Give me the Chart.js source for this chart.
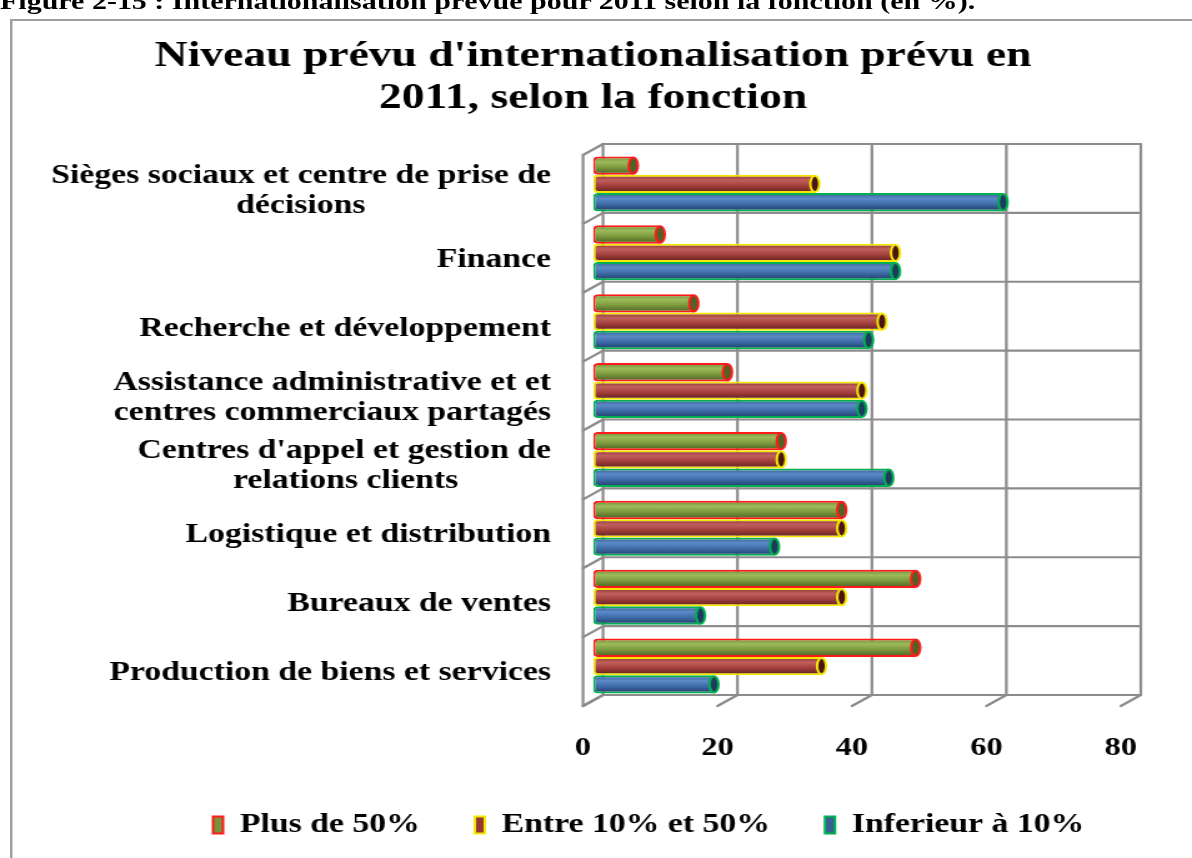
<!DOCTYPE html>
<html><head><meta charset="utf-8">
<script src="https://cdn.jsdelivr.net/npm/chart.js@4/dist/chart.umd.min.js"></script>
<style>
html,body{margin:0;padding:0;background:#fff;overflow:hidden;width:1192px;height:858px;}
#wrap{position:absolute;left:0;top:0;width:954px;height:858px;transform:scaleX(1.2495);transform-origin:0 0;}
#c{position:absolute;left:0;top:0;}
#cap{position:absolute;left:0;top:-11px;font:bold 24px "Liberation Serif",serif;line-height:24px;white-space:nowrap;color:#000;}
#ftop{position:absolute;left:8px;top:19px;width:946px;height:2px;background:#a0a0a0;}
#fleft{position:absolute;left:8px;top:19px;width:2.4px;height:839px;background:#a0a0a0;}
</style></head>
<body><div id="wrap"><canvas id="c" width="954" height="858"></canvas>
<div id="cap">Figure 2-15 : Internationalisation prévue pour 2011 selon la fonction (en %).</div>
<div id="ftop"></div><div id="fleft"></div></div>
<script>
const titleLines = ["Niveau prévu d'internationalisation prévu en", "2011, selon la fonction"];
const categories = [
  ["Sièges sociaux et centre de prise de", "décisions"],
  "Finance",
  "Recherche et développement",
  ["Assistance administrative et et", "centres commerciaux partagés"],
  ["Centres d'appel et gestion de", "relations clients"],
  "Logistique et distribution",
  "Bureaux de ventes",
  "Production de biens et services"
];
const seriesNames = ["Plus de 50%", "Entre 10% et 50%", "Inferieur à 10%"];
const plusDe50 = [6, 10, 15, 20, 28, 37, 48, 48];
const entre10et50 = [33, 45, 43, 40, 28, 37, 37, 34];
const inferieur10 = [61, 45, 41, 40, 44, 27, 16, 18];
const xTicks = [0, 20, 40, 60, 80];

const FONT = "'Liberation Serif', 'Times New Roman', serif";
const gradStops = [
  ['#6f8a35', '#9cbb5a', '#7e9a3e', '#4a5d22'],
  ['#8c3431', '#c0605d', '#a33f3c', '#5a1e1c'],
  ['#365f93', '#5b8ac6', '#3f6ca8', '#1d3a63']
];
const flatColors = ['#77933c', '#953735', '#376092'];
const borderColors = ['#ff1a1a', '#f5e800', '#00b050'];
const capColors = ['#4f6228', '#4a1515', '#1f3a5f'];

function cyl(i) {
  return (c) => {
    const el = c.element;
    if (!el || !isFinite(el.y) || !el.height) return flatColors[i];
    const g = c.chart.ctx.createLinearGradient(0, el.y - el.height / 2, 0, el.y + el.height / 2);
    const s = gradStops[i];
    g.addColorStop(0, s[0]); g.addColorStop(0.3, s[1]); g.addColorStop(0.6, s[2]); g.addColorStop(1, s[3]);
    return g;
  };
}

// centre shorter lines of multi-line labels inside their right-aligned block
const mctx = document.createElement('canvas').getContext('2d');
mctx.font = "bold 27px " + FONT;
const spaceW = mctx.measureText(' ').width;
const yLabels = categories.map(l => {
  if (!Array.isArray(l)) return l;
  const ws = l.map(t => mctx.measureText(t).width);
  const mw = Math.max(...ws);
  return l.map((t, i) => t + ' '.repeat(Math.round((mw - ws[i]) / 2 / spaceW)));
});

const DX = 8, DY = 5.5;
const framePlugin = {
  id: 'frame3d',
  beforeDatasetsDraw(chart) {
    const ctx = chart.ctx, xs = chart.scales.x;
    const {top, bottom} = chart.chartArea;
    const n = categories.length, band = (bottom - top) / n;
    const x0 = xs.getPixelForValue(xTicks[0]), xN = xs.getPixelForValue(xTicks[xTicks.length - 1]);
    ctx.save();
    ctx.strokeStyle = '#8c8c8c'; ctx.lineWidth = 2.2; ctx.lineCap = 'round';
    const line = (a, b, c, d) => { ctx.beginPath(); ctx.moveTo(a, b); ctx.lineTo(c, d); ctx.stroke(); };
    xTicks.forEach(v => {
      const X = xs.getPixelForValue(v);
      line(X + DX, top - DY, X + DX, bottom - DY);
      line(X - DX, bottom + DY, X + DX, bottom - DY);
    });
    for (let i = 0; i <= n; i++) {
      const yb = top + i * band;
      line(x0 + DX, yb - DY, xN + DX, yb - DY);
      line(x0 - DX, yb + DY, x0 + DX, yb - DY);
    }
    line(x0 - DX, top + DY, x0 - DX, bottom + DY);
    ctx.restore();
  },
  afterDatasetsDraw(chart) {
    const ctx = chart.ctx;
    chart.data.datasets.forEach((ds, di) => {
      chart.getDatasetMeta(di).data.forEach(el => {
        if (!isFinite(el.x)) return;
        ctx.save();
        ctx.beginPath();
        ctx.ellipse(el.x, el.y, 3.6, Math.max(el.height / 2 - 1, 1), 0, 0, Math.PI * 2);
        ctx.fillStyle = capColors[di]; ctx.fill();
        ctx.lineWidth = 2; ctx.strokeStyle = borderColors[di]; ctx.stroke();
        ctx.restore();
      });
    });
  },
  afterLayout(chart) {
    const lg = chart.legend;
    if (lg) { lg.left = 126.5; lg.right = 954; }
    const tb = chart.titleBlock;
    if (tb) { tb.left = 44; tb.right = 905.2; }
  }
};

const datasets = [plusDe50, entre10et50, inferieur10].map((d, i) => ({
  label: seriesNames[i],
  data: d,
  backgroundColor: cyl(i),
  borderColor: borderColors[i],
  borderWidth: 2,
  borderSkipped: false,
  borderRadius: {topLeft: 4, bottomLeft: 4, topRight: 0, bottomRight: 0},
  categoryPercentage: 0.8,
  barPercentage: 1
}));

const chart = new Chart(document.getElementById('c'), {
  type: 'bar',
  data: {labels: yLabels, datasets},
  plugins: [framePlugin],
  options: {
    indexAxis: 'y',
    responsive: false,
    animation: false,
    events: [],
    layout: {padding: {left: 10, right: 49, top: 0, bottom: 9.5}},
    scales: {
      x: {
        type: 'linear', min: 0, max: 80,
        afterBuildTicks: (s) => { s.ticks = xTicks.map(v => ({value: v})); },
        afterFit: (s) => { s.height = 67; },
        grid: {display: false, drawTicks: false}, border: {display: false},
        ticks: {color: '#000', padding: 32, labelOffset: -8, font: {family: FONT, size: 26, weight: 'bold'}}
      },
      y: {
        afterFit: (s) => { s.width = 464.6; },
        grid: {display: false, drawTicks: false}, border: {display: false},
        ticks: {color: '#000', padding: 33.6, labelOffset: 7, autoSkip: false,
          font: {family: FONT, size: 27, weight: 'bold', lineHeight: 30 / 27}}
      }
    },
    plugins: {
      title: {
        display: true, text: titleLines, color: '#000',
        font: {family: FONT, size: 36.5, weight: 'bold', lineHeight: 42 / 36.5},
        padding: {top: 36, bottom: 29.5}
      },
      legend: {
        position: 'bottom', align: 'start',
        labels: {
          boxWidth: 8, boxHeight: 17, padding: 44, color: '#000',
          font: {family: FONT, size: 27, weight: 'bold'},
          generateLabels: (ch) => ch.data.datasets.map((ds, i) => ({
            text: ds.label, fillStyle: flatColors[i], strokeStyle: borderColors[i],
            lineWidth: 2, hidden: false, datasetIndex: i, fontColor: '#000'
          }))
        }
      },
      tooltip: {enabled: false}
    }
  }
});
chart.update();
</script>
</body></html>
